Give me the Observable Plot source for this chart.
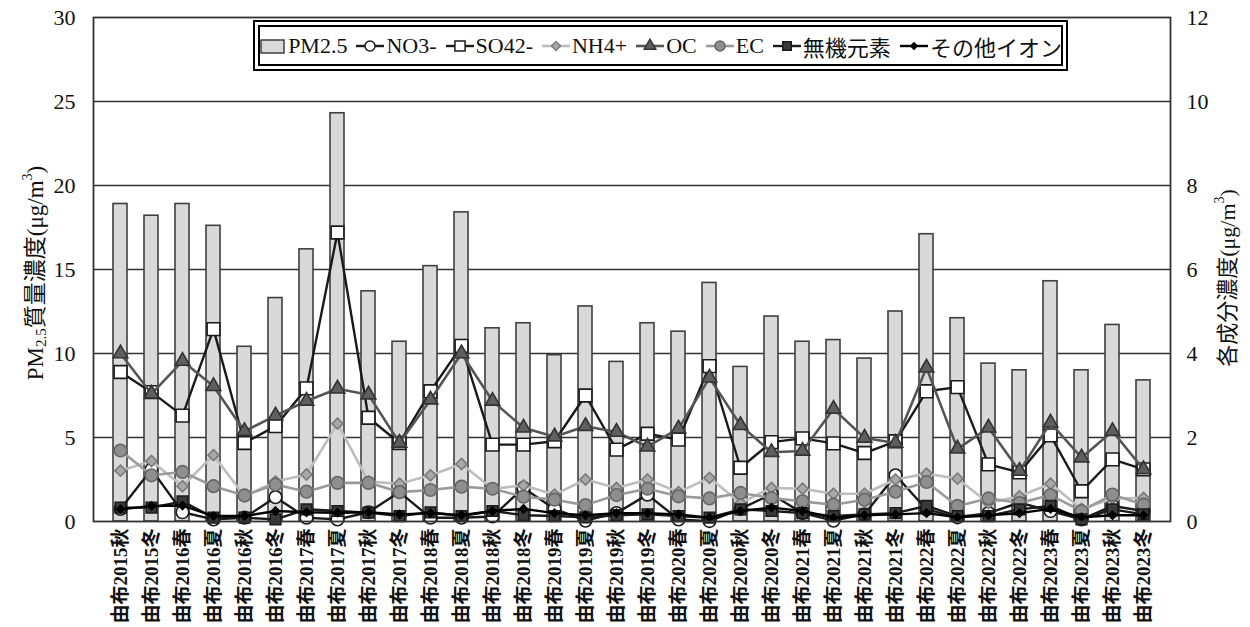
<!DOCTYPE html>
<html>
<head>
<meta charset="utf-8">
<script src="https://cdn.jsdelivr.net/npm/d3@7"></script>
<script src="https://cdn.jsdelivr.net/npm/@observablehq/plot@0.6"></script>
<style>
  body { margin: 0; background: #fff; }
  #wrap { position: relative; width: 1250px; height: 627px; font-family: "Liberation Serif", "Noto Sans CJK JP", serif; }
  #legend { position: absolute; left: 253px; top: 20px; width: 815px; height: 51px; box-sizing: border-box;
    border: 7px double #000; background: #fff; display: flex; align-items: center; justify-content: center;
    font-size: 22px; gap: 8px; white-space: nowrap; color: #111; }
  #legend .item { display: flex; align-items: center; }
  #legend svg { display: block; margin-right: 1px; }
</style>
</head>
<body>
<div id="wrap"><div id="legend"></div></div>
<script>
const cats = ["由布2015秋","由布2015冬","由布2016春","由布2016夏","由布2016秋","由布2016冬","由布2017春","由布2017夏","由布2017秋","由布2017冬","由布2018春","由布2018夏","由布2018秋","由布2018冬","由布2019春","由布2019夏","由布2019秋","由布2019冬","由布2020春","由布2020夏","由布2020秋","由布2020冬","由布2021春","由布2021夏","由布2021秋","由布2021冬","由布2022春","由布2022夏","由布2022秋","由布2022冬","由布2023春","由布2023夏","由布2023秋","由布2023冬"];
// PM2.5 mass concentration (left axis)
const pm25 = [18.9,18.2,18.9,17.6,10.4,13.3,16.2,24.3,13.7,10.7,15.2,18.4,11.5,11.8,9.9,12.8,9.5,11.8,11.3,14.2,9.2,12.2,10.7,10.8,9.7,12.5,17.1,12.1,9.4,9.0,14.3,9.0,11.7,8.4];
// component concentrations (right axis)
const no3 = [0.30,1.24,0.22,0.05,0.09,0.58,0.09,0.05,0.22,0.70,0.09,0.09,0.12,0.80,0.30,0.02,0.20,0.64,0.05,0.01,0.30,0.65,0.20,0.02,0.17,1.10,0.29,0.10,0.20,0.45,0.25,0.05,0.37,0.25];
const so4 = [3.56,3.08,2.52,4.58,1.87,2.27,3.17,6.88,2.47,1.87,3.10,4.18,1.83,1.83,1.91,3.00,1.71,2.09,1.95,3.70,1.28,1.89,1.98,1.86,1.63,1.91,3.10,3.20,1.36,1.17,2.05,0.72,1.48,1.24];
const nh4 = [1.21,1.44,0.84,1.58,0.60,0.95,1.12,2.33,0.95,0.90,1.10,1.37,0.78,0.86,0.64,1.00,0.80,1.00,0.70,1.04,0.44,0.80,0.78,0.66,0.66,1.00,1.14,1.02,0.44,0.60,0.90,0.30,0.55,0.56];
const oc  = [4.00,3.04,3.82,3.22,2.15,2.52,2.87,3.16,3.02,1.87,2.90,4.00,2.87,2.23,2.02,2.27,2.13,1.78,2.21,3.42,2.29,1.65,1.68,2.68,1.99,1.87,3.66,1.73,2.23,1.20,2.35,1.52,2.15,1.24];
const ec  = [1.69,1.10,1.18,0.84,0.62,0.88,0.71,0.92,0.92,0.70,0.75,0.83,0.78,0.59,0.52,0.39,0.63,0.78,0.60,0.55,0.68,0.56,0.48,0.40,0.52,0.71,0.94,0.37,0.55,0.44,0.63,0.25,0.64,0.40];
const inorg = [0.33,0.33,0.48,0.09,0.09,0.05,0.29,0.25,0.21,0.13,0.22,0.13,0.25,0.15,0.13,0.10,0.15,0.17,0.13,0.09,0.29,0.25,0.20,0.13,0.17,0.20,0.37,0.13,0.13,0.29,0.37,0.05,0.29,0.17];
const otherIon = [0.29,0.37,0.38,0.13,0.13,0.25,0.22,0.21,0.22,0.17,0.20,0.15,0.25,0.30,0.20,0.15,0.20,0.20,0.17,0.09,0.25,0.33,0.25,0.09,0.15,0.17,0.20,0.10,0.15,0.20,0.30,0.10,0.15,0.15];
const leftTicks = [0,5,10,15,20,25,30];
const rightTicks = [0,2,4,6,8,10,12];
const seriesNames = ["NO3-","SO42-","NH4+","OC","EC","無機元素","その他イオン"];

const ratio = 30 / 12; // left/right axis scale ratio
const seriesValues = [no3, so4, nh4, oc, ec, inorg, otherIon];
const styles = [
  {stroke:"#1a1a1a", symbol:"circle",   fill:"#ffffff", mstroke:"#1a1a1a", r:6.3, lw:2.4},
  {stroke:"#1a1a1a", symbol:"square",   fill:"#ffffff", mstroke:"#1a1a1a", r:7.2, lw:2.4},
  {stroke:"#bdbdbd", symbol:"diamond2", fill:"#a8a8a8", mstroke:"#7a7a7a", r:5.0, lw:2.6},
  {stroke:"#555555", symbol:"triangle", fill:"#5f5f5f", mstroke:"#333333", r:5.4, lw:2.6},
  {stroke:"#9a9a9a", symbol:"circle",   fill:"#8f8f8f", mstroke:"#666666", r:6.3, lw:2.6},
  {stroke:"#1a1a1a", symbol:"square",   fill:"#3a3a3a", mstroke:"#1a1a1a", r:6.0, lw:2.4},
  {stroke:"#000000", symbol:"diamond2", fill:"#000000", mstroke:"#000000", r:3.6, lw:2.4}
];

const bars = cats.map((c, i) => ({cat: c, v: pm25[i]}));
const marks = [
  Plot.gridY({ticks: leftTicks.slice(1, -1), stroke: "#333", strokeOpacity: 1, strokeWidth: 1.6}),
  Plot.barY(bars, {x: "cat", y: "v", fill: "#d9d9d9", stroke: "#3f3f3f", strokeWidth: 1.6}),
];
seriesValues.forEach((vals, k) => {
  const s = styles[k];
  const rows = cats.map((c, i) => ({cat: c, v: vals[i] * ratio}));
  marks.push(Plot.line(rows, {x: "cat", y: "v", stroke: s.stroke, strokeWidth: s.lw}));
  marks.push(Plot.dot(rows, {x: "cat", y: "v", symbol: s.symbol, fill: s.fill, stroke: s.mstroke, strokeWidth: 1.6, r: s.r}));
});
marks.push(
  Plot.frame({stroke: "#333", strokeWidth: 1.8}),
  Plot.axisY({anchor: "left", ticks: leftTicks, tickSize: 0, tickPadding: 18, fontSize: 22, label: null}),
  Plot.axisY({anchor: "right", ticks: rightTicks.map(t => t * ratio), tickFormat: d => d3.format("d")(d / ratio), tickSize: 0, tickPadding: 16, fontSize: 22, label: null}),
  Plot.axisX({tickRotate: -90, tickSize: 0, tickPadding: 7, fontSize: 19, fontWeight: "bold", label: null})
);

const chart = Plot.plot({
  width: 1250, height: 627,
  marginLeft: 93, marginRight: 80, marginTop: 17, marginBottom: 106,
  style: {fontFamily: '"Liberation Serif", "Noto Sans CJK JP", serif', color: "#111", background: "#fff"},
  x: {domain: cats, paddingInner: 0.56, paddingOuter: 0.28},
  y: {domain: [0, 30]},
  marks
});
document.getElementById("wrap").prepend(chart);

// axis titles with subscript / superscript
const svg = d3.select(chart);
const lt = svg.append("text").attr("transform", "translate(38,273) rotate(-90)")
  .attr("text-anchor", "middle").attr("dominant-baseline", "middle")
  .attr("font-size", 23).attr("fill", "#111");
lt.append("tspan").text("PM");
lt.append("tspan").attr("font-size", 15).attr("dy", 5).text("2.5");
lt.append("tspan").attr("dy", -5).text("質量濃度(μg/m");
lt.append("tspan").attr("font-size", 14).attr("dy", -9).text("3");
lt.append("tspan").attr("dy", 9).text(")");

const rt = svg.append("text").attr("transform", "translate(1230,278) rotate(-90)")
  .attr("text-anchor", "middle").attr("dominant-baseline", "middle")
  .attr("font-size", 22).attr("fill", "#111");
rt.append("tspan").text("各成分濃度(μg/m");
rt.append("tspan").attr("font-size", 14).attr("dy", -9).text("3");
rt.append("tspan").attr("dy", 9).text(")");

// legend
const legend = d3.select("#legend");
const symMap = {circle: d3.symbolCircle, square: d3.symbolSquare, diamond2: d3.symbolDiamond2, triangle: d3.symbolTriangle};
const pmItem = legend.append("div").attr("class", "item");
const ps = pmItem.append("svg").attr("width", 28).attr("height", 18);
ps.append("rect").attr("x", 2).attr("y", 3).attr("width", 23).attr("height", 13).attr("fill", "#d9d9d9").attr("stroke", "#3f3f3f").attr("stroke-width", 1.5);
pmItem.append("span").text("PM2.5");
seriesNames.forEach((name, k) => {
  const s = styles[k];
  const it = legend.append("div").attr("class", "item");
  const sv = it.append("svg").attr("width", 30).attr("height", 20);
  sv.append("line").attr("x1", 1).attr("x2", 29).attr("y1", 10).attr("y2", 10).attr("stroke", s.stroke).attr("stroke-width", s.lw);
  sv.append("path").attr("transform", "translate(15,10)")
    .attr("d", d3.symbol(symMap[s.symbol], Math.PI * (s.r * 0.8) ** 2)())
    .attr("fill", s.fill).attr("stroke", s.mstroke).attr("stroke-width", 1.5);
  it.append("span").text(name);
});
</script>
</body>
</html>
